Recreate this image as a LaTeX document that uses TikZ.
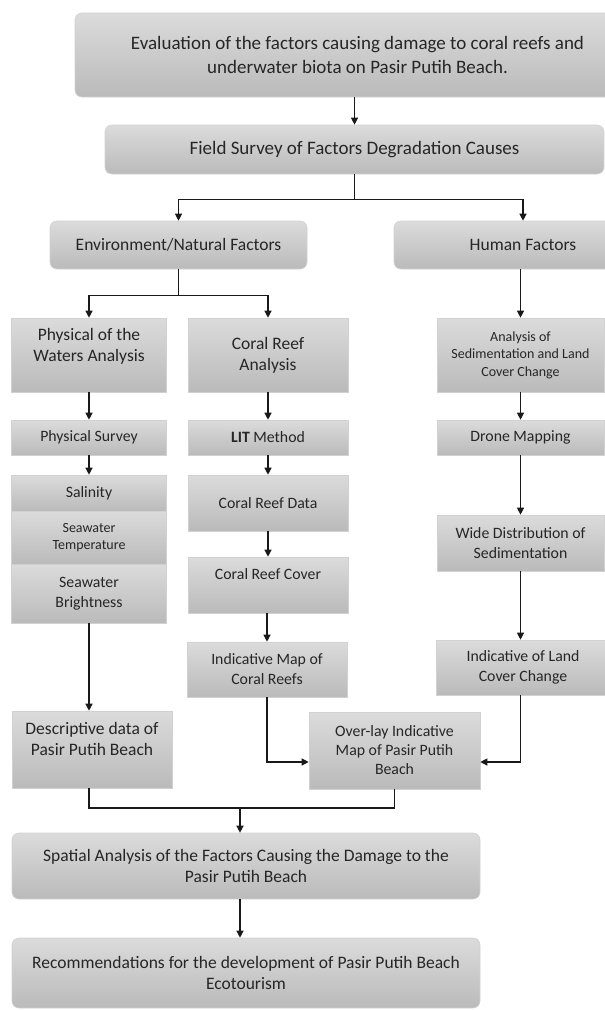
\documentclass[tikz,border=0pt]{standalone}
\usepackage{fontspec}
\setmainfont{Carlito}
\usetikzlibrary{arrows.meta}

\begin{document}
\begin{tikzpicture}[x=1pt,y=-1pt]
        \tikzstyle{every node}=[rectangle, top color=black!14, bottom color=black!27, draw=black!18, line width=0.6pt, inner sep=2pt, align=center, text=black!85, font=\fontsize{15.8}{20}\selectfont]
        \tikzstyle{round}=[rounded corners=7pt]
        \tikzstyle{big}=[font=\fontsize{19}{24}\selectfont]
        \tikzstyle{mid}=[font=\fontsize{17.5}{21}\selectfont]
        \tikzstyle{small}=[font=\fontsize{14}{17.5}\selectfont]
        \tikzstyle{raised}=[text depth=21pt]
        \tikzstyle{edge}=[black!90, line width=1.2pt]
        \tikzstyle{arr}=[edge, -{Triangle[length=7pt,width=7pt]}]

        \useasboundingbox (0,0) rectangle (605,1010);

        \node[round, big, minimum width=565, minimum height=84] (eval)  at (357.5,55)  {Evaluation of the factors causing damage to coral reefs and\\underwater biota on Pasir Putih Beach.};
        \node[round, big, minimum width=499, minimum height=49] (field) at (354.5,149.5) {Field Survey of Factors Degradation Causes};

        \node[round, mid, minimum width=257, minimum height=48] (env)   at (178.5,245) {Environment/Natural Factors};
        \node[round, mid, minimum width=258, minimum height=48] (human) at (523,245)   {Human Factors};

        % first column
        \node[mid, raised, minimum width=155, minimum height=74] (physw)  at (89,355)   {Physical of the\\Waters Analysis};
        \node[minimum width=155, minimum height=35]              (psurv)  at (89,437.5) {Physical Survey};
        \node[minimum width=155, minimum height=36]              (salin)  at (89,493)   {Salinity};
        \node[small, minimum width=155, minimum height=53]       (temp)   at (89,537.5) {Seawater\\Temperature};
        \node[minimum width=155, minimum height=59]              (bright) at (89,593.5) {Seawater\\Brightness};
        \node[mid, raised, minimum width=160, minimum height=77] (desc)   at (92,749.5) {Descriptive data of\\Pasir Putih Beach};

        % second column
        \node[mid, minimum width=160, minimum height=74]    (coral)   at (268,355)   {Coral Reef\\Analysis};
        \node[minimum width=160, minimum height=35]         (lit)     at (268,437.5) {\textbf{LIT} Method};
        \node[minimum width=160, minimum height=56]         (crdata)  at (268,503)   {Coral Reef Data};
        \node[raised, minimum width=160, minimum height=56] (crcover) at (268,585)   {Coral Reef Cover};
        \node[minimum width=160, minimum height=55]         (indmap)  at (267,669.5) {Indicative Map of\\Coral Reefs};

        % third column
        \node[small, minimum width=167, minimum height=74] (sedim) at (520.5,355)   {Analysis of\\Sedimentation and Land\\Cover Change};
        \node[minimum width=167, minimum height=35]        (drone) at (520.5,437.5) {Drone Mapping};
        \node[minimum width=167, minimum height=56]        (wide)  at (520.5,543)   {Wide Distribution of\\Sedimentation};
        \node[minimum width=174, minimum height=55]        (land)  at (523,667.5)   {Indicative of Land\\Cover Change};

        \node[font=\fontsize{15.8}{19}\selectfont, minimum width=171, minimum height=77] (overlay) at (394.5,750.5) {Over-lay Indicative\\Map of Pasir Putih\\Beach};

        \node[round, mid, minimum width=468, minimum height=66] (spatial) at (246,866) {Spatial Analysis of the Factors Causing the Damage to the\\Pasir Putih Beach};
        \node[round, mid, minimum width=468, minimum height=70] (recom)   at (246,973) {Recommendations for the development of Pasir Putih Beach\\Ecotourism};

        \coordinate (join) at (240,808);

        \draw[arr] (field.north |- eval.south) -- (field.north);
        \draw[arr] (field.south) -- ++(0,25) -| (env.north);
        \draw[arr] (field.south) -- ++(0,25) -| (human.north);
        \draw[arr] (env.south) -- ++(0,26) -| (physw.north);
        \draw[arr] (env.south) -- ++(0,26) -| (coral.north);
        \draw[arr] (sedim.north |- human.south) -- (sedim.north);

        \draw[arr] (physw) -- (psurv);
        \draw[arr] (psurv) -- (salin);
        \draw[arr] (bright.south) -- (bright.south |- desc.north);

        \draw[arr] (coral) -- (lit);
        \draw[arr] (lit) -- (crdata);
        \draw[arr] (crdata) -- (crcover);
        \draw[arr] (crcover.south -| indmap.north) -- (indmap.north);

        \draw[arr] (sedim) -- (drone);
        \draw[arr] (drone) -- (wide);
        \draw[arr] (wide.south) -- (wide.south |- land.north);

        \draw[arr] (indmap.south) |- ([yshift=-11.5pt]overlay.west);
        \draw[arr] (wide.south |- land.south) |- ([yshift=-11.5pt]overlay.east);

        \draw[edge] (bright.south |- desc.south) |- (join) -| (overlay.south);
        \draw[arr] (join) -- (join |- spatial.north);
        \draw[arr] (join |- spatial.south) -- (join |- recom.north);
\end{tikzpicture}
\end{document}
